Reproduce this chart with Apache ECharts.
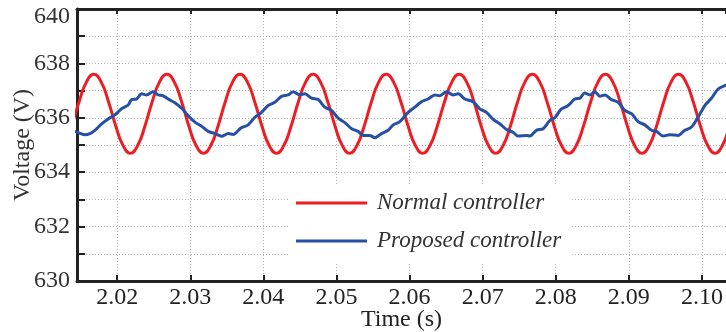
<!DOCTYPE html>
<html>
<head>
<meta charset="utf-8">
<script src="https://cdn.jsdelivr.net/npm/echarts@6/dist/echarts.min.js"></script>
<style>
  html, body { margin: 0; padding: 0; background: #fff; }
  #main { width: 726px; height: 332px; }
</style>
</head>
<body>
<div id="main"></div>
<script>
// time window shown (s) and voltage range (V)
var timeMin = 2.0145;
var timeMax = 2.1033;
var voltMin = 630;
var voltMax = 640;

var seriesNames = ['Normal controller', 'Proposed controller'];

// normal controller, 100 Hz ripple
var redTime = [
  2.0138, 2.0148, 2.0158, 2.0168, 2.0178, 2.0188, 2.0198, 2.0208, 2.0218, 2.0228,
  2.0238, 2.0248, 2.0258, 2.0268, 2.0278, 2.0288, 2.0298, 2.0308, 2.0318, 2.0328,
  2.0338, 2.0348, 2.0358, 2.0368, 2.0378, 2.0388, 2.0398, 2.0408, 2.0418, 2.0428,
  2.0438, 2.0448, 2.0458, 2.0468, 2.0478, 2.0488, 2.0498, 2.0508, 2.0518, 2.0528,
  2.0538, 2.0548, 2.0558, 2.0568, 2.0578, 2.0588, 2.0598, 2.0608, 2.0618, 2.0628,
  2.0638, 2.0648, 2.0658, 2.0668, 2.0678, 2.0688, 2.0698, 2.0708, 2.0718, 2.0728,
  2.0738, 2.0748, 2.0758, 2.0768, 2.0778, 2.0788, 2.0798, 2.0808, 2.0818, 2.0828,
  2.0838, 2.0848, 2.0858, 2.0868, 2.0878, 2.0888, 2.0898, 2.0908, 2.0918, 2.0928,
  2.0938, 2.0948, 2.0958, 2.0968, 2.0978, 2.0988, 2.0998, 2.1008, 2.1018, 2.1028,
  2.1038, 2.1048
];
var redVolt = [
  635.70, 636.60, 637.32, 637.60, 637.32, 636.60, 635.70, 634.98, 634.70, 634.98,
  635.70, 636.60, 637.32, 637.60, 637.32, 636.60, 635.70, 634.98, 634.70, 634.98,
  635.70, 636.60, 637.32, 637.60, 637.32, 636.60, 635.70, 634.98, 634.70, 634.98,
  635.70, 636.60, 637.32, 637.60, 637.32, 636.60, 635.70, 634.98, 634.70, 634.98,
  635.70, 636.60, 637.32, 637.60, 637.32, 636.60, 635.70, 634.98, 634.70, 634.98,
  635.70, 636.60, 637.32, 637.60, 637.32, 636.60, 635.70, 634.98, 634.70, 634.98,
  635.70, 636.60, 637.32, 637.60, 637.32, 636.60, 635.70, 634.98, 634.70, 634.98,
  635.70, 636.60, 637.32, 637.60, 637.32, 636.60, 635.70, 634.98, 634.70, 634.98,
  635.70, 636.60, 637.32, 637.60, 637.32, 636.60, 635.70, 634.98, 634.70, 634.98,
  635.70, 636.60
];

// proposed controller
var blueTime = [
  2.01400, 2.01450, 2.01558, 2.01627, 2.01695, 2.01787, 2.01877, 2.01969, 2.02060, 2.02150,
  2.02197, 2.02265, 2.02334, 2.02402, 2.02492, 2.02561, 2.02629, 2.02698, 2.02789, 2.02881,
  2.02971, 2.03063, 2.03155, 2.03245, 2.03337, 2.03428, 2.03518, 2.03587, 2.03690, 2.03792,
  2.03884, 2.03975, 2.04066, 2.04157, 2.04249, 2.04339, 2.04408, 2.04499, 2.04568, 2.04659,
  2.04750, 2.04841, 2.04933, 2.05023, 2.05115, 2.05207, 2.05297, 2.05365, 2.05457, 2.05525,
  2.05617, 2.05707, 2.05776, 2.05867, 2.05981, 2.06073, 2.06164, 2.06254, 2.06346, 2.06415,
  2.06506, 2.06596, 2.06665, 2.06757, 2.06870, 2.06962, 2.07053, 2.07144, 2.07235, 2.07327,
  2.07417, 2.07486, 2.07601, 2.07646, 2.07737, 2.07828, 2.07919, 2.07988, 2.08068, 2.08170,
  2.08261, 2.08330, 2.08398, 2.08467, 2.08535, 2.08604, 2.08672, 2.08763, 2.08854, 2.08945,
  2.09037, 2.09127, 2.09219, 2.09311, 2.09379, 2.09469, 2.09561, 2.09675, 2.09766, 2.09858,
  2.09948, 2.10040, 2.10131, 2.10222, 2.10313, 2.10400
];
var blueVolt = [
  635.52, 635.47, 635.38, 635.42, 635.54, 635.78, 635.96, 636.11, 636.33, 636.47,
  636.67, 636.69, 636.88, 636.84, 636.96, 636.84, 636.81, 636.69, 636.55, 636.35,
  636.08, 635.84, 635.69, 635.50, 635.42, 635.32, 635.42, 635.39, 635.62, 635.74,
  636.02, 636.20, 636.45, 636.57, 636.79, 636.84, 636.96, 636.84, 636.88, 636.72,
  636.67, 636.39, 636.27, 635.99, 635.82, 635.60, 635.50, 635.35, 635.35, 635.27,
  635.42, 635.54, 635.74, 635.86, 636.20, 636.39, 636.59, 636.69, 636.84, 636.81,
  636.96, 636.84, 636.88, 636.69, 636.59, 636.33, 636.20, 635.94, 635.78, 635.57,
  635.47, 635.33, 635.35, 635.33, 635.54, 635.60, 635.90, 636.00, 636.30, 636.45,
  636.69, 636.72, 636.91, 636.84, 636.96, 636.79, 636.84, 636.67, 636.57, 636.27,
  636.15, 635.86, 635.74, 635.54, 635.50, 635.33, 635.38, 635.35, 635.54, 635.66,
  636.02, 636.45, 636.72, 637.06, 637.18, 637.25
];

function pairs(xs, ys) {
  var out = [];
  for (var i = 0; i < xs.length; i++) {
    out.push([xs[i], ys[i]]);
  }
  return out;
}

var serif = '"Liberation Serif", "Times New Roman", Times, serif';
var chart = echarts.init(document.getElementById('main'));

var option = {
  animation: false,
  backgroundColor: '#ffffff',
  grid: { left: 77, right: 0, top: 9, bottom: 51, outerBoundsMode: 'none' },
  legend: {
    data: seriesNames,
    orient: 'vertical',
    left: 288,
    top: 185,
    padding: [6, 11, 10, 8],
    itemGap: 14,
    itemWidth: 71,
    itemHeight: 3,
    icon: 'rect',
    backgroundColor: '#ffffff',
    textStyle: {
      fontFamily: serif,
      fontStyle: 'italic',
      fontSize: 23,
      lineHeight: 24,
      padding: [0, 0, 0, 5],
      color: '#333'
    }
  },
  xAxis: [{
    type: 'value',
    min: timeMin,
    max: timeMax,
    splitNumber: 9,
    name: 'Time (s)',
    nameLocation: 'middle',
    nameGap: 27,
    nameMoveOverlap: false,
    nameTextStyle: { fontFamily: serif, fontSize: 24, color: '#222' },
    axisLine: { lineStyle: { color: '#222', width: 3 } },
    axisTick: { inside: true, length: 6, lineStyle: { color: '#222', width: 2 } },
    axisLabel: {
      showMinLabel: false,
      showMaxLabel: false,
      margin: 5,
      fontFamily: serif,
      fontSize: 24,
      color: '#222',
      formatter: function (v) { return v.toFixed(2); }
    },
    splitLine: { show: true, lineStyle: { color: '#b0b0b0', width: 1, type: [1, 2] } }
  }, {
    type: 'value',
    position: 'top',
    min: timeMin,
    max: timeMax,
    splitNumber: 9,
    axisLine: { lineStyle: { color: '#222', width: 3 } },
    axisTick: { inside: true, length: 5, lineStyle: { color: '#222', width: 2 } },
    axisLabel: { show: false },
    splitLine: { show: false }
  }],
  yAxis: {
    type: 'value',
    min: voltMin,
    max: voltMax,
    interval: 1,
    name: 'Voltage (V)',
    nameLocation: 'middle',
    nameGap: 42,
    nameMoveOverlap: false,
    nameTextStyle: { fontFamily: serif, fontSize: 24, color: '#333' },
    axisLine: { lineStyle: { color: '#222', width: 3 } },
    axisTick: { inside: true, length: 8, lineStyle: { color: '#222', width: 2 } },
    axisLabel: {
      margin: 7,
      fontFamily: serif,
      fontSize: 24,
      color: '#333',
      formatter: function (v) {
        if (v === voltMax) return '{top|' + v + '}';
        return v % 2 === 0 ? String(v) : '';
      },
      rich: {
        top: { fontFamily: serif, fontSize: 24, color: '#333', padding: [16, 0, 0, 0] }
      }
    },
    splitLine: { show: true, lineStyle: { color: '#b0b0b0', width: 1, type: [1, 2] } }
  },
  series: [{
    name: seriesNames[0],
    type: 'line',
    data: pairs(redTime, redVolt),
    smooth: 0.5,
    symbol: 'none',
    lineStyle: { color: '#ee1d24', width: 3 },
    itemStyle: { color: '#ee1d24' }
  }, {
    name: seriesNames[1],
    type: 'line',
    data: pairs(blueTime, blueVolt),
    smooth: 0.3,
    symbol: 'none',
    lineStyle: { color: '#2650a6', width: 3 },
    itemStyle: { color: '#2650a6' }
  }]
};

chart.setOption(option);
</script>
</body>
</html>
